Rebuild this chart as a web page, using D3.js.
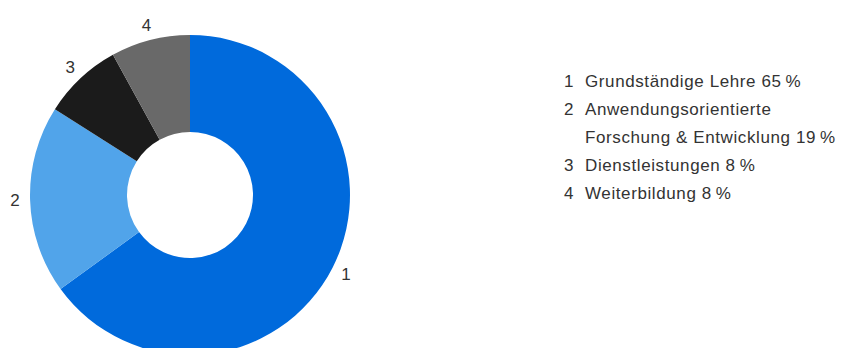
<!DOCTYPE html>
<html>
<head>
<meta charset="utf-8">
<script src="https://cdn.jsdelivr.net/npm/d3@7"></script>
<style>
  body { margin: 0; background: #fff; }
  svg { display: block; }
  text { font-family: "Liberation Sans", Arial, sans-serif; fill: #333; }
</style>
</head>
<body>
<script>
// Daten
const ids = ["1", "2", "3", "4"];
const values = [65, 19, 8, 8];
const legendLines = [
  ["Grundständige Lehre 65\u2009%"],
  ["Anwendungsorientierte", "Forschung & Entwicklung 19\u2009%"],
  ["Dienstleistungen 8\u2009%"],
  ["Weiterbildung 8\u2009%"]
];
const colors = ["#006adc", "#51a4ea", "#1b1b1b", "#696969"];

const width = 845, height = 348;
const cx = 190, cy = 195;
const outerR = 160, innerR = 63, labelR = 175;

const svg = d3.select("body").append("svg")
    .attr("width", width)
    .attr("height", height);

const pie = d3.pie().sort(null).value(d => d);
const arcs = pie(values);
const arc = d3.arc().innerRadius(innerR).outerRadius(outerR);
const labelArc = d3.arc().innerRadius(labelR).outerRadius(labelR);

const g = svg.append("g").attr("transform", `translate(${cx},${cy})`);

// Segmente
g.selectAll("path")
    .data(arcs)
    .enter().append("path")
    .attr("d", arc)
    .attr("fill", (d, i) => colors[i]);

// Nummern am Ring
g.selectAll(".lbl")
    .data(arcs)
    .enter().append("text")
    .attr("class", "lbl")
    .attr("transform", d => `translate(${labelArc.centroid(d)})`)
    .attr("text-anchor", "middle")
    .attr("dy", "0.35em")
    .style("font-size", "17px")
    .text((d, i) => ids[i]);

// Legende
const legend = svg.append("g")
    .style("font-size", "17px")
    .style("letter-spacing", "0.6px");
let y = 87;
legendLines.forEach((lines, i) => {
    legend.append("text")
        .attr("x", 564)
        .attr("y", y)
        .text(ids[i]);
    lines.forEach(l => {
        legend.append("text")
            .attr("x", 585)
            .attr("y", y)
            .text(l);
        y += 28;
    });
});
</script>
</body>
</html>
